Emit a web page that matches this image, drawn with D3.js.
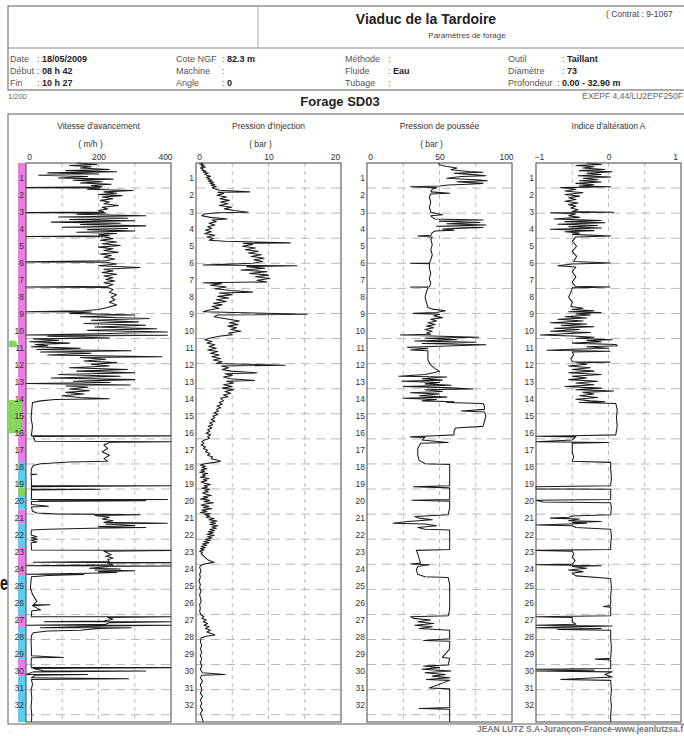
<!DOCTYPE html>
<html>
<head>
<meta charset="utf-8">
<script src="https://cdn.jsdelivr.net/npm/d3@7/dist/d3.min.js"></script>
<style>
  body { margin: 0; background: #fff; }
  svg { display: block; font-family: "Liberation Sans", Arial, sans-serif; }
</style>
</head>
<body>
<svg id="chart" width="684" height="736"></svg>
<script>
const vitesse = [
  [0,140],[0.08,195],[0.15,120],[0.22,180],[0.3,150],[0.38,230],[0.45,110],[0.52,250],[0.58,60],[0.65,200],[0.72,35],[0.8,170],[0.88,90],[0.95,240],[1.02,130],[1.1,210],[1.18,150],[1.25,235],[1.32,180],[1.4,210],
  [1.45,0],[1.47,205],[1.55,170],[1.62,295],[1.7,215],[1.78,250],[1.85,200],[1.92,265],[2.0,210],[2.1,240],[2.2,205],[2.3,230],[2.4,215],[2.5,255],[2.6,210],[2.7,225],[2.8,200],[2.88,215],
  [2.92,0],[2.94,220],[3.02,140],[3.1,330],[3.18,90],[3.25,280],[3.32,120],[3.4,300],[3.48,70],[3.55,260],[3.62,150],[3.7,330],[3.78,100],[3.85,280],[3.92,170],[4.0,300],[4.08,140],[4.15,250],[4.22,200],[4.28,230],
  [4.32,0],[4.34,215],[4.45,240],[4.55,205],[4.65,250],[4.75,210],[4.85,260],[4.95,200],[5.05,240],[5.15,215],[5.25,255],[5.35,205],[5.45,235],[5.55,215],[5.65,245],[5.75,220],
  [5.82,0],[5.84,220],[5.95,250],[6.05,200],[6.15,315],[6.25,215],[6.35,240],[6.45,210],[6.55,250],[6.65,215],[6.75,240],[6.85,220],[6.95,245],[7.05,215],[7.15,240],[7.25,225],
  [7.3,0],[7.32,225],[7.45,240],[7.6,230],[7.75,250],[7.9,235],[8.05,245],[8.2,230],[8.35,250],[8.5,225],[8.62,200],[8.7,160],
  [8.75,0],[8.77,180],[8.85,120],[8.95,300],[9.05,150],[9.15,340],[9.25,180],[9.35,310],[9.45,160],[9.55,330],[9.65,190],[9.75,360],[9.85,170],[9.95,390],[10.05,200],
  [10.12,0],[10.14,390],[10.2,60],[10.3,230],[10.35,20],[10.45,90],[10.52,10],[10.6,120],[10.68,25],[10.75,60],[10.82,15],[10.9,150],[10.98,30],[11.05,290],[11.12,40],[11.2,180],[11.3,60],[11.4,375],
  [11.45,150],[11.55,220],[11.65,160],[11.75,250],[11.85,180],[11.95,230],[12.05,120],[12.15,280],[12.25,140],[12.35,300],[12.45,90],[12.55,260],[12.65,70],[12.75,300],[12.85,130],[12.92,232],
  [12.98,0],[13.02,150],[13.06,287],[13.12,110],[13.2,170],[13.3,120],[13.4,175],[13.5,110],[13.6,160],[13.7,100],[13.8,150],[13.88,230],[13.92,80],[14.0,40],[14.1,18],
  [14.5,16],[15.0,14],[15.5,18],[16.0,15],[16.06,15],[16.06,400],[16.1,20],[16.38,25],[16.4,400],[16.45,230],[16.6,215],[16.8,225],[17.0,210],[17.2,230],[17.4,215],[17.55,225],
  [17.6,120],[17.7,40],[17.8,20],[18.0,15],[18.3,14],[18.32,30],[18.35,14],[18.7,15],[19.0,15],[19.0,400],[19.05,15],[19.2,15],[19.2,205],[19.25,15],[19.6,15],
  [19.8,15],[19.8,390],[19.85,35],[19.88,330],[19.92,15],[20.1,15],[20.2,62],[20.25,15],[20.5,18],[20.6,30],[20.65,80],[20.7,315],[20.75,190],[20.85,230],[20.95,210],
  [21.05,240],[21.15,215],[21.2,390],[21.25,220],[21.35,300],[21.4,200],[21.45,330],[21.5,180],[21.55,60],[21.6,15],[21.9,14],[22.0,30],[22.05,14],[22.15,32],[22.2,14],[22.3,30],[22.35,14],
  [22.6,15],[22.78,15],[22.8,400],[22.85,215],[22.95,225],[23.05,235],[23.15,220],[23.25,240],[23.35,225],[23.45,230],[23.5,20],[23.52,400],[23.55,225],[23.65,240],[23.7,0],[23.72,400],
  [23.75,230],[23.85,175],[23.9,260],[23.95,190],[24.0,300],[24.05,200],[24.1,250],[24.15,170],[24.2,0],[24.22,160],[24.28,60],[24.35,15],
  [24.6,14],[25.0,12],[25.4,18],[25.8,30],[26.0,20],[26.0,66],[26.05,18],[26.3,40],[26.35,16],[26.6,15],[26.7,15],[26.7,400],[26.75,225],[26.85,240],[26.95,215],
  [27.0,50],[27.0,400],[27.05,230],[27.15,220],[27.2,0],[27.2,400],[27.25,220],[27.35,40],[27.35,290],[27.4,200],[27.5,150],[27.55,60],[27.65,20],
  [27.8,15],[28.2,14],[28.6,15],[29.0,15],[29.1,103],[29.12,15],[29.5,14],[29.7,15],[29.7,400],[29.75,20],[29.9,50],[29.9,330],[29.95,20],
  [30.1,0],[30.1,170],[30.15,25],[30.3,15],[30.35,283],[30.4,15],[30.7,18],[31.0,14],[31.5,16],[32.0,14],[32.5,16],[32.9,15]
];

const injection = [
  [0,1.0],[0.06,0.5],[0.12,1.1],[0.18,0.7],[0.24,1.3],[0.3,0.6],[0.36,1.0],[0.42,0.8],[0.48,1.4],[0.54,1.0],[0.6,1.7],[0.66,1.2],[0.72,1.5],[0.78,2.0],[0.84,1.4],[0.9,1.9],
  [0.96,1.6],[1.02,2.2],[1.08,1.7],[1.14,2.4],[1.2,1.9],[1.26,2.6],[1.32,2.1],[1.38,2.8],[1.44,2.3],[1.5,2.5],[1.6,3.2],
  [1.7,7.4],[1.72,3.0],[1.8,3.8],[1.9,2.9],[2.0,4.2],[2.1,3.3],[2.2,4.6],[2.3,3.4],[2.4,4.4],[2.5,3.2],[2.6,4.9],[2.7,3.9],[2.8,5.3],[2.9,7.2],[2.93,3.0],
  [3.0,1.2],[3.1,0.8],[3.2,2.0],[3.3,4.3],[3.35,2.2],[3.45,2.8],[3.55,1.8],[3.65,2.6],[3.75,1.6],[3.85,2.2],[3.95,1.3],[4.05,2.1],[4.15,1.2],[4.25,2.6],[4.35,1.5],[4.45,2.4],[4.55,1.8],
  [4.6,4.0],[4.7,13],[4.72,6.5],[4.8,7.8],[4.9,6.4],[5.0,8.2],[5.1,6.8],[5.2,8.6],[5.3,7.2],[5.4,9.0],[5.5,7.6],[5.6,9.4],[5.7,8.0],[5.8,9.2],[5.9,7.8],
  [6.0,1.0],[6.05,13.9],[6.1,7.0],[6.2,9.5],[6.3,6.2],[6.4,9.8],[6.5,7.4],[6.6,10.0],[6.7,8.2],[6.8,10.2],[6.9,8.4],[7.0,9.8],
  [7.05,1.0],[7.1,3.5],[7.2,2.0],[7.3,4.2],[7.4,2.6],[7.5,4.8],[7.6,7.8],[7.65,3.2],[7.75,5.0],[7.85,3.0],[7.95,4.5],[8.05,2.8],[8.15,4.2],[8.25,2.4],[8.35,3.6],[8.45,2.2],[8.55,3.2],[8.65,1.8],
  [8.76,1.0],[8.9,15.3],[8.95,3.0],[9.05,2.5],[9.2,4.5],[9.3,6.0],[9.4,4.6],[9.5,5.8],[9.6,4.4],[9.7,5.6],[9.8,4.8],[9.9,6.2],[10.0,4.5],[10.1,5.0],[10.2,3.2],
  [10.3,2.0],[10.4,1.2],[10.5,2.2],[10.6,1.5],[10.7,2.6],[10.8,1.8],[10.9,2.8],[11.0,1.6],[11.1,3.0],[11.2,2.0],[11.3,3.2],[11.4,2.2],[11.5,3.4],[11.6,2.4],[11.7,3.6],[11.8,2.8],
  [11.9,12.3],[11.95,3.5],[12.05,4.5],[12.15,3.6],[12.25,4.8],[12.35,8.4],[12.4,4.0],[12.5,5.0],[12.6,3.8],[12.7,4.8],[12.8,8.1],[12.85,4.2],[12.95,5.2],[13.05,3.8],[13.15,5.0],
  [13.25,3.6],[13.35,5.2],[13.45,4.0],[13.55,4.8],[13.65,3.8],[13.75,4.4],[13.85,3.4],[14.0,3.8],[14.1,3.2],[14.2,3.6],[14.3,2.9],[14.4,3.4],[14.5,2.8],[14.6,3.1],[14.7,2.5],
  [14.8,3.0],[14.9,2.3],[15.0,2.6],[15.1,2.1],[15.2,2.6],[15.3,1.9],[15.4,2.3],[15.5,1.7],[15.6,2.2],[15.7,1.6],[15.8,1.9],[15.9,1.4],
  [16.0,2.0],[16.1,1.6],[16.2,1.9],[16.3,1.2],[16.4,0.8],[16.5,1.1],[16.6,0.7],[16.7,1.3],[16.8,1.0],[16.9,1.6],[17.0,1.3],[17.1,1.9],[17.2,1.6],[17.3,2.3],[17.4,2.1],
  [17.5,3.0],[17.55,3.4],[17.62,2.6],[17.7,1.2],[17.78,0.6],[17.85,1.3],[17.92,0.8],[18.0,1.5],[18.07,0.7],[18.14,1.2],[18.2,0.5],[18.28,1.6],[18.35,0.9],[18.42,1.3],
  [18.5,0.6],[18.57,1.8],[18.64,1.0],[18.7,1.5],[18.78,0.7],[18.85,1.2],[18.92,2.0],[19.0,1.1],[19.07,1.6],[19.14,0.8],[19.2,1.9],[19.28,1.2],[19.35,1.7],[19.42,0.9],
  [19.5,1.4],[19.57,2.1],[19.64,1.0],[19.7,1.6],[19.78,0.6],[19.85,1.9],[19.92,1.1],[20.0,2.4],[20.07,1.3],[20.14,0.7],[20.2,1.8],[20.28,1.0],[20.35,2.2],[20.42,0.8],
  [20.5,1.5],[20.57,0.6],[20.64,2.0],[20.7,1.2],[20.78,1.9],[20.85,1.4],[20.92,2.5],[21.0,1.8],[21.07,2.9],[21.14,2.0],[21.2,2.7],[21.28,1.9],[21.35,3.0],[21.42,2.2],
  [21.5,2.8],[21.57,1.9],[21.64,2.6],[21.7,1.7],[21.78,2.4],[21.85,1.5],[21.92,2.5],[22.0,1.6],[22.07,2.2],[22.14,1.3],[22.2,2.0],[22.28,1.1],[22.35,1.8],[22.42,0.9],
  [22.5,1.5],[22.57,0.7],[22.64,1.3],[22.7,0.6],[22.78,1.1],[22.85,0.5],[22.92,0.9],[23.0,0.7],[23.1,1.0],[23.2,1.2],[23.3,1.5],[23.4,1.8],[23.45,2.2],[23.5,2.5],[23.55,1.8],
  [23.62,1.0],[23.7,0.6],[23.8,0.5],[24.0,0.7],[24.2,0.5],[24.4,0.6],[24.6,0.4],[24.8,0.6],[25.0,0.5],[25.2,0.7],[25.4,0.5],[25.6,0.6],[25.8,0.7],[26.0,0.5],[26.2,0.6],
  [26.4,0.5],[26.6,0.7],[26.7,1.1],[26.8,0.8],[26.9,1.4],[27.0,1.0],[27.1,1.6],[27.2,1.1],[27.3,1.8],[27.4,1.3],[27.5,2.0],[27.6,1.5],[27.7,2.2],[27.78,2.6],[27.85,1.4],[27.95,0.7],
  [28.2,0.6],[28.4,0.8],[28.6,0.6],[28.8,0.8],[29.0,0.6],[29.2,0.8],[29.4,0.6],[29.6,0.8],[29.8,0.6],[30.0,0.9],[30.1,4.0],[30.15,0.8],[30.3,0.6],[30.5,0.9],[30.7,0.6],
  [31.0,0.8],[31.2,0.6],[31.4,0.9],[31.6,0.6],[31.8,0.8],[32.0,0.6],[32.2,0.9],[32.4,0.6],[32.6,0.8],[32.9,1.0]
];

const poussee = [
  [0,49],[0.1,50],[0.2,55],[0.3,62],[0.4,58],[0.5,70],[0.55,80],[0.6,60],[0.7,75],[0.75,82],[0.8,65],[0.9,55],[1.0,78],[1.05,83],[1.1,62],[1.2,80],[1.25,70],[1.3,56],[1.35,50],
  [1.4,30],[1.45,48],[1.55,45],[1.7,44],[1.78,57],[1.82,44],[2.0,43],[2.3,44],[2.6,43],[2.9,44],[3.05,52],[3.1,44],[3.2,45],[3.3,47],[3.35,80],[3.42,50],[3.5,78],[3.58,55],
  [3.65,82],[3.72,48],[3.8,80],[3.88,52],[3.95,60],[4.0,47],[4.1,45],[4.25,44],[4.3,35],[4.35,45],[4.5,44],[4.8,45],[5.1,44],[5.4,45],[5.7,44],[5.88,43],[5.9,30],[5.93,43],
  [6.2,43],[6.5,44],[6.8,43],[7.1,44],[7.28,43],[7.3,30],[7.33,42],[7.6,41],[7.9,40],[8.2,41],[8.5,42],[8.6,45],[8.7,54],[8.8,48],[8.85,32],[8.9,50],[9.0,46],[9.1,52],
  [9.2,44],[9.3,48],[9.4,42],[9.5,47],[9.6,41],[9.7,46],[9.8,40],[9.9,45],[10.0,41],[10.08,44],[10.12,23],[10.18,45],[10.25,77],[10.32,40],[10.4,62],[10.48,33],[10.55,75],
  [10.62,38],[10.7,82],[10.78,50],[10.85,28],[10.92,42],[11.0,30],[11.05,42],[11.3,42],[11.6,42],[11.9,44],[12.1,47],[12.25,50],[12.35,46],[12.45,40],[12.55,22],[12.6,55],
  [12.7,38],[12.78,52],[12.85,24],[12.92,50],[13.0,40],[13.08,58],[13.15,25],[13.22,55],[13.3,73],[13.35,40],[13.45,52],[13.52,30],[13.6,50],[13.7,36],[13.78,55],[13.85,25],
  [13.92,48],[14.0,38],[14.05,60],[14.1,55],[14.15,80],[14.3,81],[14.5,81],[14.6,65],[14.65,81],[14.9,82],[15.2,81],[15.5,80],[15.6,61],[15.8,60],[16.0,60],[16.05,47],
  [16.12,30],[16.15,40],[16.3,38],[16.45,56],[16.5,37],[16.8,35],[17.2,35],[17.5,36],[17.7,40],[17.75,57],[18.0,57],[18.5,57],[19.0,57],[19.05,32],[19.12,57],[19.5,57],
  [19.8,57],[19.85,31],[19.9,57],[20.3,57],[20.7,56],[20.8,33],[20.9,36],[21.0,45],[21.1,28],[21.2,18],[21.25,40],[21.35,48],[21.45,35],[21.55,40],[21.6,57],[22.0,57],
  [22.4,57],[22.75,57],[22.8,34],[23.0,35],[23.3,36],[23.55,37],[23.6,30],[23.65,43],[23.75,35],[23.95,34],[24.2,35],[24.35,40],[24.4,56],[24.8,57],[25.3,57],[25.8,57],
  [26.3,57],[26.65,56],[26.7,30],[26.8,32],[26.9,44],[27.0,35],[27.1,46],[27.2,33],[27.3,45],[27.4,36],[27.5,57],[28.0,57],[28.1,39],[28.15,57],[28.6,57],[29.1,52],
  [29.15,57],[29.55,56],[29.6,39],[29.7,50],[29.8,38],[29.9,58],[30.0,40],[30.1,54],[30.2,45],[30.3,57],[30.4,41],[30.45,57],[30.9,43],[30.95,57],[31.5,57],[32.05,57],
  [32.1,36],[32.15,57],[32.9,57]
];

const alteration = [
  [0,-0.3],[0.08,-0.1],[0.15,-0.45],[0.22,-0.2],[0.3,-0.35],[0.38,-0.05],[0.45,-0.4],[0.52,0.05],[0.6,-0.3],[0.68,-0.1],[0.75,-0.42],[0.82,0.03],[0.9,-0.35],[0.98,-0.15],
  [1.05,-0.4],[1.12,-0.1],[1.2,-0.45],[1.28,-0.2],[1.35,-0.4],[1.4,0.03],[1.45,-0.66],[1.55,-0.45],[1.65,-0.6],[1.75,-0.35],[1.85,-0.6],[1.95,-0.4],[2.05,-0.55],[2.15,-0.45],
  [2.25,-0.6],[2.35,-0.42],[2.45,-0.55],[2.55,-0.45],[2.65,-0.52],[2.75,-0.42],[2.85,-0.5],[2.9,0.07],[2.93,-0.8],[3.0,-0.45],[3.1,-0.55],[3.2,-0.4],[3.3,-0.75],[3.38,-0.1],
  [3.45,-0.6],[3.52,-0.05],[3.6,-0.7],[3.68,-0.15],[3.75,-0.55],[3.82,-0.1],[3.9,-0.8],[3.98,-0.2],[4.05,-0.6],[4.12,-0.4],[4.2,-0.5],[4.3,0.03],[4.35,-0.45],[4.6,-0.5],
  [4.9,-0.44],[5.2,-0.5],[5.5,-0.44],[5.8,-0.48],[5.88,0.03],[5.95,-0.5],[6.05,-0.7],[6.12,-0.45],[6.4,-0.5],[6.7,-0.45],[7.0,-0.5],[7.25,-0.46],[7.3,0.02],[7.35,-0.5],
  [7.6,-0.52],[7.9,-0.55],[8.2,-0.5],[8.45,-0.52],[8.55,-0.35],[8.62,-0.5],[8.7,-0.2],[8.76,-0.55],[8.8,-0.1],[8.88,-0.45],[8.95,-0.25],[9.05,-0.6],[9.12,-0.3],[9.2,-0.7],
  [9.3,-0.35],[9.4,-0.8],[9.48,-0.3],[9.56,-0.65],[9.64,-0.2],[9.72,-0.75],[9.8,-0.4],[9.9,-0.8],[9.98,-0.25],[10.05,-0.6],[10.12,-0.94],[10.18,-0.5],[10.25,-0.2],[10.32,-0.45],
  [10.4,0.05],[10.45,-0.3],[10.52,-0.1],[10.6,-0.5],[10.68,0.1],[10.75,0.12],[10.82,-0.3],[10.9,0.0],[10.95,-0.4],[11.02,-0.85],[11.08,0.02],[11.12,-0.5],[11.3,-0.48],
  [11.5,-0.52],[11.7,-0.5],[11.72,0.02],[11.76,-0.45],[11.85,-0.3],[11.95,-0.55],[12.05,-0.25],[12.15,-0.5],[12.25,-0.2],[12.35,-0.55],[12.45,-0.1],[12.55,-0.5],[12.65,-0.3],
  [12.75,-0.55],[12.85,-0.15],[12.95,-0.45],[13.05,-0.2],[13.15,-0.6],[13.25,-0.1],[13.35,-0.45],[13.42,0.07],[13.5,-0.35],[13.6,-0.2],[13.7,-0.4],[13.8,-0.15],[13.9,-0.45],
  [14.0,-0.25],[14.05,-0.05],[14.1,-0.4],[14.15,0.1],[14.5,0.12],[15.0,0.11],[15.5,0.12],[16.0,0.1],[16.05,-0.5],[16.08,-1],[16.12,-0.45],[16.3,-0.5],[16.4,-1],[16.45,0.0],
  [16.5,-0.5],[17.0,-0.5],[17.3,-0.48],[17.55,-0.5],[17.62,0.03],[18.0,0.03],[18.5,0.04],[19.0,0.03],[19.05,-1],[19.18,-1],[19.2,0.03],[19.5,0.03],[19.8,0.03],[19.85,-1],
  [19.95,-0.9],[20.0,0.03],[20.3,0.04],[20.7,0.03],[20.78,-0.5],[20.85,-0.55],[20.9,-0.8],[20.95,-0.4],[21.05,-0.55],[21.1,-0.1],[21.15,-0.5],[21.2,-0.3],[21.25,-0.55],
  [21.3,-1],[21.35,-0.5],[21.45,-0.45],[21.55,0.03],[22.0,0.04],[22.4,0.03],[22.75,0.03],[22.8,-1],[22.85,-0.5],[23.0,-0.48],[23.2,-0.5],[23.4,-0.46],[23.6,-0.5],
  [23.65,-1],[23.7,-0.1],[23.75,-0.5],[23.85,-0.3],[23.95,-0.55],[24.05,-0.35],[24.15,-0.5],[24.3,-0.45],[24.45,0.03],[25.0,0.04],[25.5,0.03],[26.05,0.03],[26.1,-0.07],
  [26.15,0.03],[26.65,0.03],[26.7,-1],[26.75,-0.5],[27.0,-0.5],[27.15,-0.45],[27.2,-1],[27.25,0.05],[27.3,-0.6],[27.35,-1],[27.4,-0.1],[27.45,-0.7],[27.5,0.03],[28.0,0.03],
  [28.5,0.04],[29.15,0.03],[29.2,-0.18],[29.25,0.03],[29.75,0.03],[29.8,-1],[29.85,-0.2],[29.9,-1],[29.95,0.05],[30.1,-0.05],[30.25,0.05],[30.4,-0.66],[30.45,0.03],
  [31.0,0.04],[31.5,0.03],[32.0,0.04],[32.5,0.03],[32.9,0.03]
];

// lithology strip (depth from, depth to, colour key)
const stripFrom  = [0, 17.6, 19.1, 19.6, 20.4, 21.2, 22.6, 24.3, 26.6, 27.3, 29.2, 30.2];
const stripTo    = [17.6, 19.1, 19.6, 20.4, 21.2, 22.6, 24.3, 26.6, 27.3, 29.2, 30.2, 32.9];
const stripKind  = ["p", "c", "g", "c", "p", "c", "p", "c", "p", "c", "p", "c"];
const greenFrom  = [10.45, 13.95];
const greenTo    = [10.85, 15.9];

const trackTitles = ["Vitesse d'avancement", "Pression d'injection", "Pression de poussée", "Indice d'altération A"];
const trackUnits  = ["( m/h )", "( bar )", "( bar )", ""];
const trackDomains = [[0, 400], [0, 20], [0, 100], [-1, 1]];
const trackTicks  = [[0, 200, 400], [0, 10, 20], [0, 50, 100], [-1, 0, 1]];
const trackGrid   = [[100, 200, 300], [5, 10, 15], [25, 50, 75], [-0.5, 0, 0.5]];
const trackData   = [vitesse, injection, poussee, alteration];
const depthLabels = d3.range(1, 33);
const maxDepth = 32.9;

// ---- layout ----
const svg = d3.select("#chart");
const trackLeft = [26, 196, 367, 536];
const trackW = 145;
const plotTop = 163, plotBottom = 722;
const ink = "#333", gridCol = "#b9b9b9";
const colors = { p: "#ea7ee0", c: "#5fcbea", g: "#86d45e" };

const y = d3.scaleLinear().domain([0, maxDepth]).range([plotTop, plotBottom]);

// ---- header block ----
const head = svg.append("g");
head.append("rect").attr("x", 8).attr("y", 6).attr("width", 690).attr("height", 84)
  .attr("fill", "none").attr("stroke", "#777").attr("stroke-width", 1.2);
head.append("line").attr("x1", 8).attr("x2", 684).attr("y1", 48).attr("y2", 48).attr("stroke", "#888");
head.append("line").attr("x1", 258).attr("x2", 258).attr("y1", 6).attr("y2", 48).attr("stroke", "#aaa");

head.append("text").attr("x", 426).attr("y", 24).attr("text-anchor", "middle")
  .attr("font-size", 14).attr("font-weight", "bold").attr("fill", "#222").text("Viaduc de la Tardoire");
head.append("text").attr("x", 606).attr("y", 17).attr("font-size", 8.5).attr("fill", "#444").text("( Contrat : 9-1067");
head.append("text").attr("x", 467).attr("y", 38).attr("text-anchor", "middle")
  .attr("font-size", 8).attr("fill", "#444").text("Paramètres de forage");

const infoLabels = [
  ["Date", "Début", "Fin"],
  ["Cote NGF", "Machine", "Angle"],
  ["Méthode", "Fluide", "Tubage"],
  ["Outil", "Diamètre", "Profondeur"]
];
const infoValues = [
  ["18/05/2009", "08 h 42", "10 h 27"],
  ["82.3 m", "", "0"],
  ["", "Eau", ""],
  ["Taillant", "73", "0.00 - 32.90 m"]
];
const infoX = [10, 176, 345, 508];
const infoColon = [37, 222, 388, 562];
const rowY = [62, 74, 86];
infoLabels.forEach((col, ci) => {
  col.forEach((lab, ri) => {
    head.append("text").attr("x", infoX[ci]).attr("y", rowY[ri]).attr("font-size", 9)
      .attr("fill", "#555").text(lab);
    const cx = (ci === 3 && ri === 2) ? 557 : infoColon[ci];
    const t = head.append("text").attr("x", cx).attr("y", rowY[ri]).attr("font-size", 9).attr("fill", "#555");
    t.append("tspan").text(": ");
    t.append("tspan").attr("font-weight", "bold").attr("fill", "#222").text(infoValues[ci][ri]);
  });
});

svg.append("text").attr("x", 8).attr("y", 99).attr("font-size", 7.5).attr("fill", "#666").text("1/200");
svg.append("text").attr("x", 340).attr("y", 106).attr("text-anchor", "middle")
  .attr("font-size", 13).attr("font-weight", "bold").attr("fill", "#222").text("Forage SD03");
svg.append("text").attr("x", 683).attr("y", 99).attr("text-anchor", "end").attr("font-size", 8.5)
  .attr("fill", "#666").text("EXEPF 4,44/LU2EPF250F");

// ---- main frame ----
svg.append("rect").attr("x", 8).attr("y", 114).attr("width", 690).attr("height", 610)
  .attr("fill", "none").attr("stroke", "#777").attr("stroke-width", 1.2);

// lithology strip and green marks
svg.append("g").selectAll("rect").data(stripFrom).join("rect")
  .attr("x", 18).attr("width", 8)
  .attr("y", d => y(d))
  .attr("height", (d, i) => y(stripTo[i]) - y(d))
  .attr("fill", (d, i) => colors[stripKind[i]]);
svg.append("g").selectAll("rect").data(greenFrom).join("rect")
  .attr("x", 8).attr("width", (d, i) => i === 0 ? 9 : 13)
  .attr("y", d => y(d))
  .attr("height", (d, i) => y(greenTo[i]) - y(d))
  .attr("rx", (d, i) => i === 0 ? 4 : 1)
  .attr("fill", colors.g);

// ---- tracks ----
trackData.forEach((data, ti) => {
  const left = trackLeft[ti];
  const x = d3.scaleLinear().domain(trackDomains[ti]).range([left, left + trackW]);
  const g = svg.append("g");
  const cx = left + trackW / 2;

  g.append("text").attr("x", cx).attr("y", 129).attr("text-anchor", "middle")
    .attr("font-size", 8.5).attr("fill", ink).text(trackTitles[ti]);
  if (trackUnits[ti]) {
    g.append("text").attr("x", cx - 8).attr("y", 147).attr("text-anchor", "middle")
      .attr("font-size", 8.5).attr("fill", ink).text(trackUnits[ti]);
  }

  // top scale
  const axis = d3.axisTop(x).tickValues(trackTicks[ti]).tickSize(0).tickPadding(0)
    .tickFormat(d3.format("d"));
  const ax = g.append("g").attr("transform", `translate(0,${plotTop - 3})`).call(axis);
  ax.select(".domain").remove();
  ax.selectAll("text").attr("font-size", 8.5).attr("fill", ink)
    .attr("font-family", "Liberation Sans, Arial, sans-serif")
    .attr("dx", (d, i) => i === 0 ? 3 : (i === 2 ? -6 : 0));

  // grid
  g.append("g").selectAll("line").data(trackGrid[ti]).join("line")
    .attr("x1", d => x(d)).attr("x2", d => x(d))
    .attr("y1", plotTop).attr("y2", plotBottom)
    .attr("stroke", gridCol).attr("stroke-dasharray", "4,4");
  g.append("g").selectAll("line").data(d3.range(1.476, maxDepth, 1.476)).join("line")
    .attr("x1", left).attr("x2", left + trackW)
    .attr("y1", d => y(d)).attr("y2", d => y(d))
    .attr("stroke", gridCol).attr("stroke-dasharray", "9,6");

  // curve
  const line = d3.line().x(d => x(d[1])).y(d => y(d[0]));
  g.append("path").datum(data).attr("d", line)
    .attr("fill", "none").attr("stroke", "#1c1c1c").attr("stroke-width", 1.05)
    .attr("stroke-linejoin", "round");

  // frame
  g.append("rect").attr("x", left).attr("y", plotTop).attr("width", trackW)
    .attr("height", plotBottom - plotTop).attr("fill", "none").attr("stroke", "#555").attr("stroke-width", 1.1);

  // depth labels
  g.append("g").selectAll("text").data(depthLabels).join("text")
    .attr("x", left - 2).attr("y", d => y(d) + 1)
    .attr("text-anchor", "end").attr("font-size", 8.5).attr("fill", ink)
    .text(d => d);
});

// footer
svg.append("text").attr("x", 683).attr("y", 732).attr("text-anchor", "end")
  .attr("font-size", 8.5).attr("font-weight", "bold").attr("fill", "#777")
  .text("JEAN LUTZ S.A-Jurançon-France-www.jeanlutzsa.f");
svg.append("text").attr("x", 8).attr("y", 733).attr("font-size", 6).attr("fill", "#aaa").text("...");
svg.append("text").attr("x", 0).attr("y", 590).attr("font-size", 20).attr("font-weight", "bold")
  .attr("fill", "#111").attr("textLength", 8).attr("lengthAdjust", "spacingAndGlyphs").text("e");
</script>
</body>
</html>
